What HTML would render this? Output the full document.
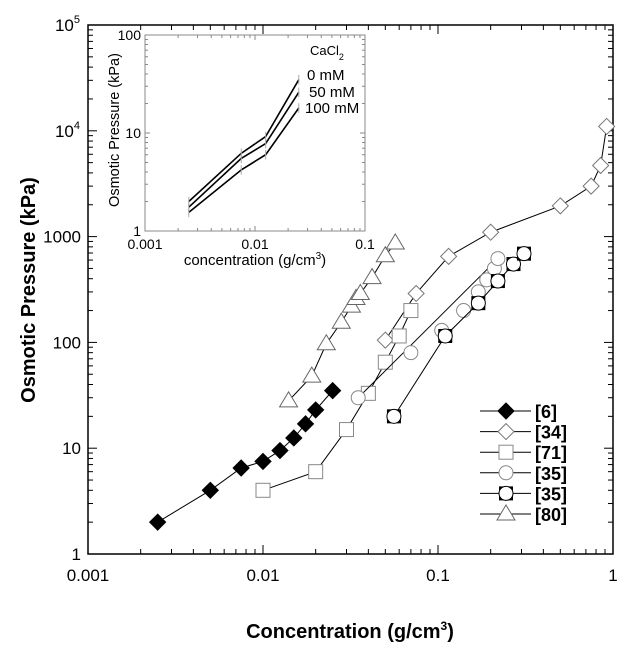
<!DOCTYPE html>
<html><head><meta charset="utf-8"><style>
html,body{margin:0;padding:0;background:#fff;}
svg{display:block;font-family:"Liberation Sans",sans-serif;}
</style></head><body>
<svg id="chart" width="624" height="649" viewBox="0 0 624 649" xmlns="http://www.w3.org/2000/svg">
<g id="main"></g>
<g id="inset"></g>
<g id="legend"></g>
</svg>
<script>
const NS='http://www.w3.org/2000/svg';
// ---- main data ----
const s6x=[0.0025,0.005,0.0075,0.01,0.0125,0.015,0.0175,0.02,0.025];
const s6y=[2,4,6.5,7.5,9.5,12.5,17,23,35];
const s34x=[0.05,0.075,0.115,0.2,0.5,0.75,0.85,0.92];
const s34y=[105,290,650,1100,1950,3000,4700,11000];
const s71x=[0.01,0.02,0.03,0.04,0.05,0.06,0.07];
const s71y=[4,6,15,33,65,115,200];
const s35ax=[0.035,0.07,0.105,0.14,0.17,0.19,0.21,0.22];
const s35ay=[30,80,130,200,300,390,500,620];
const s35bx=[0.056,0.11,0.17,0.22,0.27,0.31];
const s35by=[20,115,235,380,550,690];
const s80x=[0.014,0.019,0.023,0.028,0.032,0.034,0.036,0.042,0.05,0.057];
const s80y=[28,48,97,155,220,260,290,410,660,870];
const seriesLabels=['[6]','[34]','[71]','[35]','[35]','[80]'];
const xTickLabels=['0.001','0.01','0.1','1'];
const yTickLabels=['1','10','100','1000','10\u2074','10\u2075'];
// ---- inset data ----
const inX=[0.0025,0.0075,0.0125,0.025];
const in0=[2,6.2,9.2,35];
const in50=[1.75,5.5,7.8,26];
const in100=[1.55,4.2,6,18];
const inLabels=['0 mM','50 mM','100 mM'];

function el(tag,attrs,parent,txt){const e=document.createElementNS(NS,tag);for(const k in attrs)e.setAttribute(k,attrs[k]);if(txt!==undefined)e.textContent=txt;parent.appendChild(e);return e;}
function logAxis(d0,d1,p0,p1){return v=>p0+(Math.log10(v)-d0)/(d1-d0)*(p1-p0);}

const X=logAxis(-3,0,88,613), Y=logAxis(0,5,554,25);
const M=document.getElementById('main');
el('rect',{x:88,y:25,width:525,height:529,fill:'none',stroke:'#000','stroke-width':1.5},M);
for(let d=-3;d<=0;d++)for(let m=1;m<10;m++){const v=m*Math.pow(10,d);if(v>1.0001)break;const x=X(v);const L=m===1?9:5;
 el('line',{x1:x,y1:554,x2:x,y2:554-L,stroke:'#000','stroke-width':1},M);el('line',{x1:x,y1:25,x2:x,y2:25+L,stroke:'#000','stroke-width':1},M);}
for(let d=0;d<=5;d++)for(let m=1;m<10;m++){const v=m*Math.pow(10,d);if(v>100001)break;const y=Y(v);const L=m===1?9:5;
 el('line',{x1:88,y1:y,x2:88+L,y2:y,stroke:'#000','stroke-width':1},M);el('line',{x1:613,y1:y,x2:613-L,y2:y,stroke:'#000','stroke-width':1},M);}
xTickLabels.forEach((t,i)=>{const e=el('text',{x:X(Math.pow(10,i-3)),y:581,'font-size':17,'text-anchor':'middle'},M,t);});
yTickLabels.forEach((t,i)=>{let e;
 if(i>=4){e=el('text',{x:80,y:Y(Math.pow(10,i))+6,'font-size':17,'text-anchor':'end'},M);el('tspan',{},e,'10');el('tspan',{dy:-8,'font-size':11},e,String(i));}
 else e=el('text',{x:81,y:Y(Math.pow(10,i))+6,'font-size':17,'text-anchor':'end'},M,t);
 });
let t=el('text',{x:350,y:638,'font-size':20,'font-weight':'bold','text-anchor':'middle'},M);

el('tspan',{},t,'Concentration (g/cm');el('tspan',{dy:-8,'font-size':12},t,'3');el('tspan',{dy:8},t,')');
t=el('text',{x:0,y:0,'font-size':20,'font-weight':'bold','text-anchor':'middle',transform:'translate(35,290) rotate(-90)'},M,'Osmotic Pressure (kPa)');


function marker(type,x,y,g){const s=8;let e;
 if(type==='fd'||type==='od')e=el('polygon',{points:`${x},${y-s} ${x+s},${y} ${x},${y+s} ${x-s},${y}`,fill:type==='fd'?'#000':'#fff',stroke:type==='fd'?'#000':'#777','stroke-width':1},g);
 else if(type==='sq')e=el('rect',{x:x-7,y:y-7,width:14,height:14,fill:'#fff',stroke:'#888','stroke-width':1},g);
 else if(type==='ci')e=el('circle',{cx:x,cy:y,r:7,fill:'#fff',stroke:'#888','stroke-width':1},g);
 else if(type==='sc'){e=el('rect',{x:x-7,y:y-7,width:14,height:14,fill:'#000'},g);el('circle',{cx:x,cy:y,r:7,fill:'#fff',stroke:'#000'},g);}
 else if(type==='tr')e=el('polygon',{points:`${x},${y-9} ${x+9},${y+6} ${x-9},${y+6}`,fill:'#fff',stroke:'#666','stroke-width':1},g);
 return e;}
const series=[[s6x,s6y,'fd'],[s34x,s34y,'od'],[s71x,s71y,'sq'],[s35ax,s35ay,'ci'],[s35bx,s35by,'sc'],[s80x,s80y,'tr']];
series.forEach((s,i)=>{const g=el('g',{},M);
 let xs=s[0],ys=s[1];
 if(s[2]==='ci'){
  el('line',{x1:X(xs[0]),y1:Y(ys[0]),x2:X(xs[xs.length-1]),y2:Y(ys[ys.length-1]),stroke:'#000','stroke-width':1},g);
 } else el('polyline',{points:xs.map((x,j)=>X(x)+','+Y(ys[j])).join(' '),fill:'none',stroke:'#000','stroke-width':1},g);
 xs.forEach((x,j)=>{const m=marker(s[2],X(x),Y(ys[j]),g);});
});
const LG=document.getElementById('legend');
series.forEach((s,i)=>{const y=411+i*20.6;const g=el('g',{},LG);
 el('line',{x1:480,y1:y,x2:531,y2:y,stroke:'#000','stroke-width':1},g);marker(s[2],506,y,g);
 el('text',{x:535,y:y+7,'font-size':18,'font-weight':'bold'},g,seriesLabels[i]);});

const IX=logAxis(-3,-1,145,365), IY=logAxis(0,2,231,35);
const I=document.getElementById('inset');
el('rect',{x:145,y:35,width:220,height:196,fill:'#fff',stroke:'#888','stroke-width':1},I);
for(let d=-3;d<=-1;d++)for(let m=1;m<10;m++){const v=m*Math.pow(10,d);if(v>0.10001)break;const x=IX(v),L=m===1?5:3;
 el('line',{x1:x,y1:231,x2:x,y2:231-L,stroke:'#888'},I);el('line',{x1:x,y1:35,x2:x,y2:35+L,stroke:'#888'},I);}
for(let d=0;d<=2;d++)for(let m=1;m<10;m++){const v=m*Math.pow(10,d);if(v>100.01)break;const y=IY(v),L=m===1?5:3;
 el('line',{x1:145,y1:y,x2:145+L,y2:y,stroke:'#888'},I);el('line',{x1:365,y1:y,x2:365-L,y2:y,stroke:'#888'},I);}
['0.001','0.01','0.1'].forEach((s,i)=>el('text',{x:IX(Math.pow(10,i-3)),y:249,'font-size':14,'text-anchor':'middle'},I,s));
['1','10','100'].forEach((s,i)=>el('text',{x:141,y:IY(Math.pow(10,i))+5,'font-size':14,'text-anchor':'end'},I,s));
t=el('text',{x:255,y:265,'font-size':15,'text-anchor':'middle'},I);
el('tspan',{},t,'concentration (g/cm');el('tspan',{dy:-6,'font-size':10},t,'3');el('tspan',{dy:6},t,')');
el('text',{x:0,y:0,'font-size':14.5,'text-anchor':'middle',transform:'translate(119,130) rotate(-90)'},I,'Osmotic Pressure  (kPa)');
t=el('text',{x:310,y:55,'font-size':13},I);el('tspan',{},t,'CaCl');el('tspan',{dy:5,'font-size':9},t,'2');
[in0,in50,in100].forEach((ys,k)=>{const g=el('g',{},I);
 el('polyline',{points:inX.map((x,j)=>IX(x)+','+IY(ys[j])).join(' '),fill:'none',stroke:'#000','stroke-width':1.6},g);
 inX.forEach((x,j)=>el('line',{x1:IX(x),y1:IY(ys[j]*1.12),x2:IX(x),y2:IY(ys[j]/1.12),stroke:'#aaa'},g));
 el('text',{x:[307,309,305][k],y:[80,97,113][k],'font-size':15},g,inLabels[k]);});
</script>
</body></html>
